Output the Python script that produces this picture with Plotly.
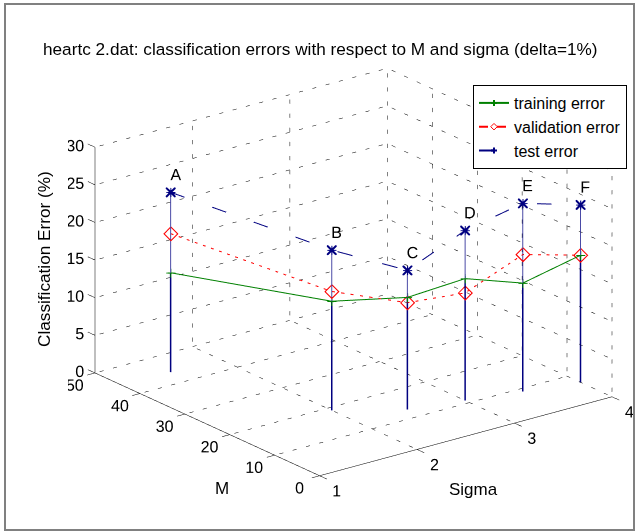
import plotly.graph_objects as go

# ---------------- data ----------------
point_labels = ["A", "B", "C", "D", "E", "F"]
sigma = [1.5, 2.0, 2.5, 3.0, 3.5, 4.0]
M = [44, 19, 13, 11, 9, 7]
train_err = [13.2, 14.5, 14.9, 16.2, 14.4, 16.9]
val_err = [18.4, 15.8, 14.2, 14.3, 18.2, 16.9]
test_err = [23.9, 21.3, 18.5, 22.6, 25.0, 23.6]

sigma_ticks = [1, 2, 3, 4]
M_ticks = [0, 10, 20, 30, 40, 50]
z_ticks = [0, 5, 10, 15, 20, 25, 30]

title_text = "heartc 2.dat: classification errors with respect to M and sigma (delta=1%)"

# ---------------- styling ----------------
FONT = "Liberation Sans, Arial, sans-serif"
FS = 16
S0, S1 = sigma_ticks[0], sigma_ticks[-1]
M0, M1 = M_ticks[0], M_ticks[-1]
Z0, Z1 = z_ticks[0], z_ticks[-1]

# padding of the scene ranges (so tick marks / labels are not clipped)
PS, PM, PZ = 0.4, 8.0, 1.0
ZOOM = 1.418
BASE_ASPECT = (1.0 * ZOOM, 1.0 * ZOOM, 0.654 * ZOOM)  # aspect of the tick box itself

fig = go.Figure()


def seg_trace(segs, color, width, dash="solid"):
    xs, ys, zs = [], [], []
    for (a, b) in segs:
        xs += [a[0], b[0], None]
        ys += [a[1], b[1], None]
        zs += [a[2], b[2], None]
    return go.Scatter3d(x=xs, y=ys, z=zs, mode="lines",
                        line=dict(color=color, width=width, dash=dash),
                        showlegend=False, hoverinfo="skip")


def dotted(a, b, n, duty=0.3):
    """split a grid line into n short dashes (MATLAB ':' grid style)"""
    out = []
    for i in range(n):
        t0 = (i + 0.35) / n
        t1 = t0 + duty / n
        out.append((tuple(a[k] + (b[k] - a[k]) * t0 for k in range(3)),
                    tuple(a[k] + (b[k] - a[k]) * t1 for k in range(3))))
    return out


NS, NM, NZ = 22, 18, 16  # dashes per grid line along sigma / M / z
# grid lines on the three back planes
grid = []
for s in sigma_ticks:
    grid += dotted((s, M0, Z0), (s, M1, Z0), NM)
    grid += dotted((s, M1, Z0), (s, M1, Z1), NZ)
for m in M_ticks:
    grid += dotted((S0, m, Z0), (S1, m, Z0), NS)
    grid += dotted((S1, m, Z0), (S1, m, Z1), NZ)
for z in z_ticks:
    grid += dotted((S0, M1, z), (S1, M1, z), NS)
    grid += dotted((S1, M0, z), (S1, M1, z), NM)
fig.add_trace(seg_trace(grid, "black", 1))

# axis lines and tick marks
axes = [((S0, M1, Z0), (S0, M1, Z1)),
        ((S0, M0, Z0), (S0, M1, Z0)),
        ((S0, M0, Z0), (S1, M0, Z0))]
for z in z_ticks:
    axes.append(((S0, M1, z), (S0, M1 + 1.6, z)))
for m in M_ticks:
    axes.append(((S0, m, Z0), (S0 - 0.08, m, Z0)))
for s in sigma_ticks:
    axes.append(((s, M0, Z0), (s, M0 - 1.6, Z0)))
fig.add_trace(seg_trace(axes, "black", 1))

# stems
fig.add_trace(seg_trace([((s, m, 0), (s, m, t)) for s, m, t in zip(sigma, M, train_err)],
                        "#000080", 3))
fig.add_trace(seg_trace([((s, m, t), (s, m, u)) for s, m, t, u in zip(sigma, M, train_err, test_err)],
                        "#4a4aa6", 2))

# series
fig.add_trace(go.Scatter3d(x=sigma, y=M, z=train_err, mode="lines+markers",
                           name="training error",
                           line=dict(color="#008000", width=2),
                           marker=dict(symbol="cross", size=5, color="#008000"),
                           hoverinfo="skip"))
fig.add_trace(go.Scatter3d(x=sigma, y=M, z=val_err, mode="lines+markers",
                           name="validation error",
                           line=dict(color="#ff0000", width=2, dash="dash"),
                           marker=dict(symbol="diamond-open", size=5, color="#ff0000"),
                           hoverinfo="skip"))
fig.add_trace(go.Scatter3d(x=sigma, y=M, z=test_err, mode="lines+markers",
                           name="test error",
                           line=dict(color="#000080", width=2, dash="longdash"),
                           marker=dict(symbol="cross", size=5, color="#000080"),
                           hoverinfo="skip"))
fig.add_trace(go.Scatter3d(x=sigma, y=M, z=test_err, mode="markers",
                           marker=dict(symbol="x", size=2.3, color="#000080"),
                           showlegend=False, hoverinfo="skip"))

# point labels
fig.add_trace(go.Scatter3d(x=[s + 0.05 for s in sigma], y=M, z=[t + 2.2 for t in test_err],
                           mode="text", text=point_labels, textposition="middle center",
                           textfont=dict(family=FONT, size=FS, color="black"),
                           showlegend=False, hoverinfo="skip"))

# tick labels
fig.add_trace(go.Scatter3d(x=[S0] * len(z_ticks), y=[M1 - 1.0] * len(z_ticks),
                           z=[z + 0.5 for z in z_ticks],
                           mode="text", text=[str(z) for z in z_ticks], textposition="middle left",
                           textfont=dict(family=FONT, size=FS, color="black"),
                           showlegend=False, hoverinfo="skip"))
fig.add_trace(go.Scatter3d(x=[S0 - 0.3] * len(M_ticks), y=[m - 2.0 for m in M_ticks],
                           z=[Z0] * len(M_ticks),
                           mode="text", text=[str(m) for m in M_ticks], textposition="middle center",
                           textfont=dict(family=FONT, size=FS, color="black"),
                           showlegend=False, hoverinfo="skip"))
fig.add_trace(go.Scatter3d(x=[s - 0.1 for s in sigma_ticks], y=[M0 - 6] * len(sigma_ticks),
                           z=[Z0] * len(sigma_ticks),
                           mode="text", text=[str(s) for s in sigma_ticks], textposition="middle center",
                           textfont=dict(family=FONT, size=FS, color="black"),
                           showlegend=False, hoverinfo="skip"))

hidden = dict(visible=False, showspikes=False)
W, H = 639, 532
eye_dir = (-0.5702, -0.7423, 0.3515)
D = 2.0
aspect = dict(x=BASE_ASPECT[0] * (S1 - S0 + 2 * PS) / (S1 - S0),
              y=BASE_ASPECT[1] * (M1 - M0 + 2 * PM) / (M1 - M0),
              z=BASE_ASPECT[2] * (Z1 - Z0 + 2 * PZ) / (Z1 - Z0))
fig.update_layout(
    width=W, height=H,
    margin=dict(l=0, r=0, t=0, b=0),
    paper_bgcolor="white",
    font=dict(family=FONT, size=FS, color="black"),
    scene=dict(
        domain=dict(x=[0.1058, 1.0], y=[0.0, 0.9782]),
        xaxis=dict(range=[S0 - PS, S1 + PS], **hidden),
        yaxis=dict(range=[M0 - PM, M1 + PM], **hidden),
        zaxis=dict(range=[Z0 - PZ, Z1 + PZ], **hidden),
        aspectmode="manual",
        aspectratio=aspect,
        camera=dict(eye=dict(x=eye_dir[0] * D, y=eye_dir[1] * D, z=eye_dir[2] * D),
                    up=dict(x=0, y=0, z=1), center=dict(x=0, y=0, z=0),
                    projection=dict(type="orthographic")),
        bgcolor="white",
    ),
    legend=dict(x=473 / W, y=1 - 85 / H, xanchor="left", yanchor="top",
                bordercolor="black", borderwidth=1, bgcolor="white",
                font=dict(family=FONT, size=16)),
    annotations=[
        dict(text=title_text, x=320 / W, y=1 - 49 / H, xref="paper", yref="paper",
             xanchor="center", yanchor="middle",
             showarrow=False, font=dict(family=FONT, size=17.2)),
        dict(text="Classification Error (%)", x=44 / W, y=1 - 259 / H, xref="paper", yref="paper",
             xanchor="center", yanchor="middle",
             textangle=-90, showarrow=False, font=dict(family=FONT, size=17.2)),
        dict(text="M", x=222 / W, y=1 - 488 / H, xref="paper", yref="paper",
             xanchor="center", yanchor="middle",
             showarrow=False, font=dict(family=FONT, size=17)),
        dict(text="Sigma", x=473 / W, y=1 - 489 / H, xref="paper", yref="paper",
             xanchor="center", yanchor="middle",
             showarrow=False, font=dict(family=FONT, size=17)),
    ],
    shapes=[dict(type="rect", xref="paper", yref="paper",
                 x0=5 / W, x1=634 / W, y0=1 - 530 / H, y1=1 - 4 / H,
                 line=dict(color="#808080", width=2))],
)

fig.write_html("out.html", config={"displayModeBar": False},
               post_script="document.body.style.margin='0';")
